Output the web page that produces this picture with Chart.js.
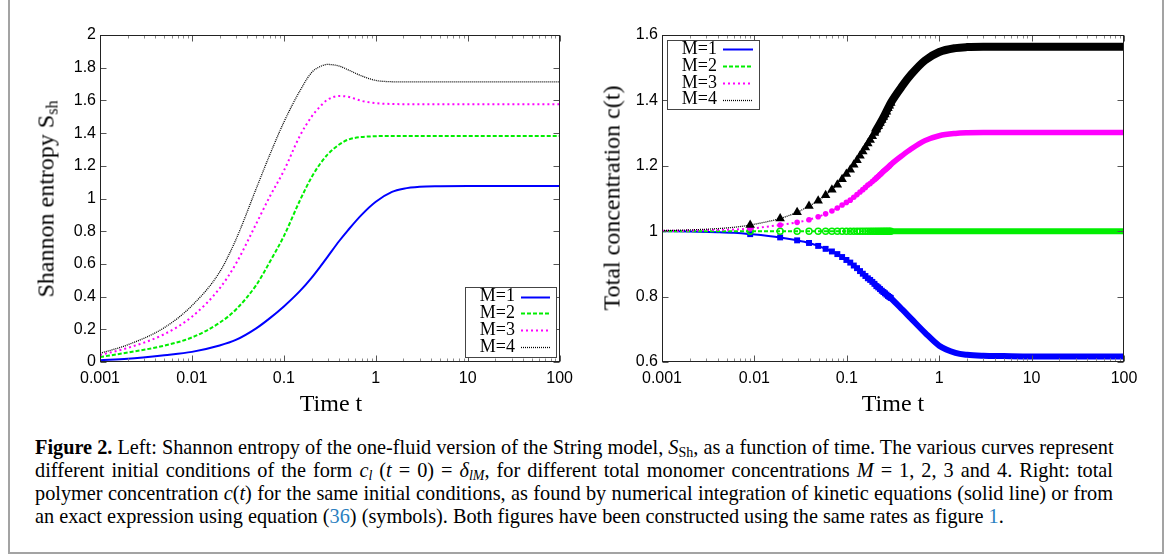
<!DOCTYPE html>
<html lang="en">
<head>
<meta charset="utf-8">
<title>Figure 2</title>
<script src="https://cdn.jsdelivr.net/npm/chart.js@4.4.1/dist/chart.umd.min.js"></script>
<style>
  html, body { margin: 0; padding: 0; background: #fff; }
  body { width: 1171px; height: 558px; position: relative; overflow: hidden; }
  .marco { position: absolute; left: 8px; top: -10px; width: 1156px; height: 564px; border: 2px solid #a3a3a3; box-sizing: border-box; }
  #izq { position: absolute; left: 0; top: 0; }
  #der { position: absolute; left: 580px; top: 0; }
  .titulo { position: absolute; font-family: "Liberation Serif", serif; font-size: 24px; color: #000; white-space: nowrap; transform: translate(-50%, -50%); }
  .titulo.vertical { transform: translate(-50%, -50%) rotate(-90deg); }
  .titulo sub { font-size: 16px; line-height: 0; vertical-align: -4px; }
  .pie { position: absolute; left: 35px; top: 436px; width: 1078px; font-family: "Liberation Serif", serif; font-size: 20.3px; line-height: 23px; color: #000; }
  .pie div { white-space: nowrap; text-align: justify; text-align-last: justify; }
  .pie div.ultima { text-align: left; text-align-last: left; }
  .pie sub { font-size: 14px; line-height: 0; vertical-align: -3px; }
  .ref { color: #2b7fc0; }
</style>
</head>
<body>
<div class="marco"></div>
<canvas id="izq" width="580" height="420"></canvas>
<canvas id="der" width="591" height="420"></canvas>

<div class="titulo vertical" style="left:46px; top:199px;">Shannon entropy S<sub>sh</sub></div>
<div class="titulo" style="left:331px; top:403px;">Time t</div>
<div class="titulo vertical" style="left:612px; top:198px;">Total concentration c(t)</div>
<div class="titulo" style="left:893px; top:403px;">Time t</div>

<div class="pie">
  <div><b>Figure 2.</b> Left: Shannon entropy of the one-fluid version of the String model, <i>S</i><sub>Sh</sub>, as a function of time. The various curves represent</div>
  <div>different initial conditions of the form <i>c<sub>l</sub></i> (<i>t</i> = 0) = <i>δ<sub>lM</sub></i>, for different total monomer concentrations <i>M</i> = 1, 2, 3 and 4. Right: total</div>
  <div>polymer concentration <i>c</i>(<i>t</i>) for the same initial conditions, as found by numerical integration of kinetic equations (solid line) or from</div>
  <div class="ultima">an exact expression using equation (<span class="ref">36</span>) (symbols). Both figures have been constructed using the same rates as figure <span class="ref">1</span>.</div>
</div>

<script>
// Ejes
const xTicks = [0.001, 0.01, 0.1, 1, 10, 100]
const xTickLabels = ['0.001', '0.01', '0.1', '1', '10', '100']
const yTicksIzq = [0, 0.2, 0.4, 0.6, 0.8, 1, 1.2, 1.4, 1.6, 1.8, 2]
const yLabelsIzq = ['0', '0.2', '0.4', '0.6', '0.8', '1', '1.2', '1.4', '1.6', '1.8', '2']
const yTicksDer = [0.6, 0.8, 1, 1.2, 1.4, 1.6]
const yLabelsDer = ['0.6', '0.8', '1', '1.2', '1.4', '1.6']
const etiquetas = ['M=1', 'M=2', 'M=3', 'M=4']

// Izquierda: entropia de Shannon
const tEntropia = [0.001, 0.002, 0.005, 0.01, 0.02, 0.03, 0.05, 0.07, 0.1, 0.15, 0.2, 0.25, 0.3, 0.4, 0.5, 0.7, 1, 1.5, 2, 3, 5, 10, 100]
const entropiaM1 = [0.01, 0.02, 0.042, 0.062, 0.101, 0.135, 0.206, 0.267, 0.34, 0.435, 0.515, 0.585, 0.645, 0.74, 0.807, 0.9, 0.98, 1.04, 1.06, 1.072, 1.075, 1.076, 1.076]
const entropiaM2 = [0.03, 0.058, 0.1, 0.15, 0.24, 0.32, 0.47, 0.61, 0.77, 0.99, 1.13, 1.215, 1.27, 1.33, 1.36, 1.376, 1.381, 1.383, 1.383, 1.383, 1.383, 1.383, 1.383]
const entropiaM3 = [0.043, 0.086, 0.17, 0.277, 0.45, 0.6, 0.845, 1.01, 1.17, 1.385, 1.5, 1.565, 1.605, 1.627, 1.622, 1.597, 1.583, 1.578, 1.577, 1.577, 1.577, 1.577, 1.577]
const entropiaM4 = [0.053, 0.105, 0.21, 0.345, 0.55, 0.747, 1.06, 1.265, 1.467, 1.66, 1.77, 1.808, 1.82, 1.81, 1.787, 1.75, 1.722, 1.714, 1.713, 1.713, 1.713, 1.713, 1.713]

// Derecha: concentracion total
const tInicio = [0.001, 0.002, 0.004, 0.006]
const tSimbolos = [0.009, 0.019, 0.029, 0.039, 0.049, 0.059, 0.069, 0.079, 0.089, 0.099, 0.109, 0.119, 0.129, 0.139, 0.149, 0.159, 0.169, 0.179, 0.189, 0.199, 0.209, 0.219, 0.229, 0.239, 0.249, 0.259, 0.269, 0.279, 0.289, 0.299]
// tramo donde los simbolos se solapan en una banda continua
const tDenso = [0.2, 0.25, 0.3, 0.4, 0.5, 0.7, 1, 1.5, 2, 3, 5, 10, 100]
const tFinal = [0.4, 0.5, 0.7, 1, 1.5, 2, 3, 5, 10, 100]

const concM1Inicio = [1, 0.999, 0.997, 0.995]
const concM1Simb = [0.991, 0.981, 0.972, 0.964, 0.955, 0.946, 0.938, 0.93, 0.921, 0.912, 0.904, 0.895, 0.887, 0.878, 0.87, 0.863, 0.856, 0.851, 0.845, 0.839, 0.832, 0.828, 0.823, 0.818, 0.814, 0.81, 0.806, 0.802, 0.799, 0.796]
const concM1Denso = [0.839, 0.814, 0.795, 0.76, 0.732, 0.69, 0.65, 0.628, 0.622, 0.619, 0.618, 0.617, 0.617]

const concM2Inicio = [1, 1, 1, 1]
const concM2Simb = [1, 1, 1, 1, 1, 1, 1, 1, 1, 1, 1, 1, 1, 1, 1, 1, 1, 1, 1, 1, 1, 1, 1, 1, 1, 1, 1, 1, 1, 1]
const concM2Denso = [1, 1, 1, 1, 1, 1, 1, 1, 1, 1, 1, 1, 1]

const concM3Inicio = [1.001, 1.002, 1.004, 1.005]
const concM3Simb = [1.008, 1.019, 1.027, 1.035, 1.044, 1.053, 1.062, 1.071, 1.08, 1.088, 1.095, 1.104, 1.112, 1.12, 1.127, 1.134, 1.141, 1.146, 1.152, 1.157, 1.163, 1.168, 1.173, 1.178, 1.183, 1.187, 1.191, 1.195, 1.199, 1.203]
const concM3Denso = [1.157, 1.183, 1.204, 1.232, 1.252, 1.277, 1.292, 1.299, 1.301, 1.302, 1.302, 1.302, 1.302]

const concM4Inicio = [1.002, 1.004, 1.008, 1.012]
const concM4Simb = [1.019, 1.039, 1.058, 1.077, 1.093, 1.11, 1.127, 1.142, 1.159, 1.175, 1.188, 1.203, 1.217, 1.231, 1.244, 1.256, 1.268, 1.279, 1.29, 1.3, 1.311, 1.321, 1.331, 1.34, 1.349, 1.357, 1.365, 1.376, 1.384, 1.392]
const concM4Denso = [1.3, 1.349, 1.393, 1.445, 1.48, 1.522, 1.548, 1.56, 1.563, 1.564, 1.564, 1.564, 1.564]

const colores = ['#0000ff', '#00ee00', '#ff00ff', '#000000']
const guiones = [[], [4, 2], [2, 3], [1, 1]]
const grosores = [2, 2, 2, 1.3]

const pares = (ts, ys) => ts.map((t, i) => ({ x: t, y: ys[i] }))

// marco tipo gnuplot con marcas hacia dentro
const marco = {
    id: 'marco',
    afterDatasetsDraw(chart) {
        const { ctx, chartArea: a, scales } = chart
        const L = Math.round(a.left) + 0.5, R = Math.round(a.right) - 0.5
        const T = Math.round(a.top) + 0.5, B = Math.round(a.bottom) - 0.5
        const linea = (x1, y1, x2, y2) => { ctx.beginPath(); ctx.moveTo(x1, y1); ctx.lineTo(x2, y2); ctx.stroke() }
        ctx.save()
        ctx.lineWidth = 1
        xTicks.forEach((d, i) => {
            const px = Math.round(scales.x.getPixelForValue(d)) + 0.5
            ctx.strokeStyle = '#555'
            linea(px, B, px, B - 6)
            linea(px, T, px, T + 6)
            if (i < xTicks.length - 1) {
                ctx.strokeStyle = '#8a8a8a'
                for (let f = 2; f < 10; f++) {
                    const pm = Math.round(scales.x.getPixelForValue(d * f)) + 0.5
                    linea(pm, B, pm, B - 3)
                    linea(pm, T, pm, T + 3)
                }
            }
        })
        ctx.strokeStyle = '#555'
        scales.y.ticks.forEach(t => {
            const py = Math.round(scales.y.getPixelForValue(t.value)) + 0.5
            linea(L, py, L + 6, py)
            linea(R, py, R - 6, py)
        })
        ctx.strokeStyle = '#222'
        ctx.strokeRect(L, T, R - L, B - T)
        ctx.restore()
    }
}

// leyenda dentro del area
const leyenda = {
    id: 'leyenda',
    afterDraw(chart, args, o) {
        const { ctx } = chart
        ctx.save()
        ctx.fillStyle = '#fff'
        ctx.fillRect(o.x, o.y, o.w, o.h)
        ctx.strokeStyle = '#444'
        ctx.lineWidth = 1
        ctx.strokeRect(o.x + 0.5, o.y + 0.5, o.w, o.h)
        ctx.font = '18px "Liberation Serif"'
        ctx.textAlign = 'right'
        ctx.textBaseline = 'middle'
        etiquetas.forEach((et, i) => {
            const y = o.y + o.primera + i * o.paso
            ctx.fillStyle = '#000'
            ctx.fillText(et, o.x + o.texto, y)
            ctx.strokeStyle = colores[i]
            ctx.lineWidth = grosores[i]
            ctx.setLineDash(guiones[i])
            ctx.beginPath()
            ctx.moveTo(o.x + o.desde, Math.round(y) + 0.5)
            ctx.lineTo(o.x + o.hasta, Math.round(y) + 0.5)
            ctx.stroke()
            ctx.setLineDash([])
        })
        ctx.restore()
    }
}

function escalas(yMin, yMax, yTicks, yLabels, ancho) {
    const fuente = { family: 'Liberation Sans', size: 16 }
    return {
        x: {
            type: 'logarithmic', min: 0.001, max: 100,
            afterBuildTicks: s => { s.ticks = xTicks.map(v => ({ value: v })) },
            afterFit: s => { s.height = 58 },
            grid: { display: false, drawTicks: false },
            border: { display: false },
            ticks: { padding: 7, color: '#000', font: fuente, autoSkip: false, maxRotation: 0, callback: (v, i) => xTickLabels[i] }
        },
        y: {
            min: yMin, max: yMax,
            afterBuildTicks: s => { s.ticks = yTicks.map(v => ({ value: v })) },
            afterFit: s => { s.width = ancho },
            grid: { display: false, drawTicks: false },
            border: { display: false },
            ticks: { padding: 4, color: '#000', font: fuente, callback: (v, i) => yLabels[i] }
        }
    }
}

Chart.defaults.font.family = 'Liberation Sans'

// Grafica izquierda
const entropias = [entropiaM1, entropiaM2, entropiaM3, entropiaM4]
new Chart(document.getElementById('izq'), {
    type: 'line',
    data: {
        datasets: entropias.map((serie, i) => ({
            label: etiquetas[i],
            data: pares(tEntropia, serie),
            borderColor: colores[i],
            borderWidth: grosores[i],
            borderDash: guiones[i],
            pointRadius: 0,
            cubicInterpolationMode: 'monotone',
            order: 4 - i
        }))
    },
    options: {
        responsive: false,
        animation: false,
        layout: { padding: { top: 35, right: 17, left: 0, bottom: 0 } },
        plugins: {
            legend: { display: false },
            tooltip: { enabled: false },
            leyenda: { x: 465, y: 287, w: 91, h: 70, primera: 9.7, paso: 16.7, texto: 50, desde: 56, hasta: 85 }
        },
        scales: escalas(0, 2, yTicksIzq, yLabelsIzq, 100)
    },
    plugins: [marco, leyenda]
})

// Grafica derecha: linea fina (integracion) + simbolos (expresion exacta)
const inicios = [concM1Inicio, concM2Inicio, concM3Inicio, concM4Inicio]
const simbolos = [concM1Simb, concM2Simb, concM3Simb, concM4Simb]
const densos = [concM1Denso, concM2Denso, concM3Denso, concM4Denso]
const formas = [
    { pointStyle: 'rect', pointRadius: 4.2, pointBackgroundColor: '#0000ff', pointBorderColor: '#0000ff', pointBorderWidth: 0 },
    { pointStyle: 'circle', pointRadius: 3, pointBackgroundColor: 'rgba(0,0,0,0)', pointBorderColor: '#00ee00', pointBorderWidth: 1.4 },
    { pointStyle: 'circle', pointRadius: 2.8, pointBackgroundColor: '#ff00ff', pointBorderColor: '#ff00ff', pointBorderWidth: 0 },
    { pointStyle: 'triangle', pointRadius: 5.5, pointBackgroundColor: '#000000', pointBorderColor: '#000000', pointBorderWidth: 0 }
]
const bandas = [6, 6, 5.5, 8]

const conjuntos = []
etiquetas.forEach((et, i) => {
    // la linea fina sigue los simbolos y despues la banda (sin repetir t)
    const d = densos[i]
    conjuntos.push({
        label: et,
        data: pares(tInicio.concat(tSimbolos, tFinal), inicios[i].concat(simbolos[i], d.slice(d.length - tFinal.length))),
        borderColor: colores[i], borderWidth: grosores[i], borderDash: guiones[i],
        pointRadius: 0, cubicInterpolationMode: 'monotone', order: 40 - i * 10
    })
    conjuntos.push(Object.assign({
        label: et + ' simbolos',
        data: pares(tSimbolos, simbolos[i]),
        showLine: false, order: 39 - i * 10, clip: false
    }, formas[i]))
    conjuntos.push({
        label: et + ' simbolos densos',
        data: pares(tDenso, d),
        borderColor: colores[i], borderWidth: bandas[i], borderCapStyle: 'butt',
        pointRadius: 0, cubicInterpolationMode: 'monotone', order: 38 - i * 10, clip: false
    })
})

new Chart(document.getElementById('der'), {
    type: 'line',
    data: { datasets: conjuntos },
    options: {
        responsive: false,
        animation: false,
        layout: { padding: { top: 35, right: 47, left: 0, bottom: 0 } },
        plugins: {
            legend: { display: false },
            tooltip: { enabled: false },
            leyenda: { x: 87, y: 40, w: 92, h: 69, primera: 9.3, paso: 16.8, texto: 50, desde: 56, hasta: 86 }
        },
        scales: escalas(0.6, 1.6, yTicksDer, yLabelsDer, 82)
    },
    plugins: [marco, leyenda]
})
</script>
</body>
</html>
